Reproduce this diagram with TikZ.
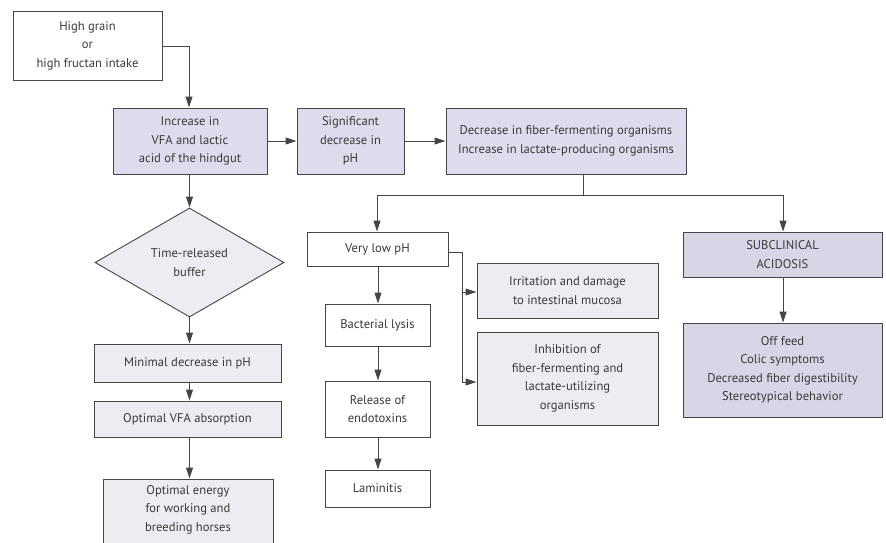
\documentclass[tikz,border=0pt]{standalone}
\usepackage{fontspec}
\setmainfont{PT Sans}
\usetikzlibrary{arrows.meta,shapes.geometric}
\definecolor{lav}{HTML}{DCDCEC}
\definecolor{lavd}{HTML}{D6D6E7}
\definecolor{lgray}{HTML}{ECECF2}
\definecolor{edge}{HTML}{454545}
\definecolor{txt}{HTML}{3A3A3A}
\tikzset{
  box/.style={draw=edge, line width=0.9pt, align=center, inner sep=0pt,
    font=\fontsize{12.6}{18.5}\selectfont, text=txt},
  conn/.style={draw=edge, line width=1pt, -{Triangle[length=11pt,width=7pt]}},
  plain/.style={draw=edge, line width=1pt},
}
\begin{document}
\begin{tikzpicture}[x=1pt,y=-1pt]
\useasboundingbox (0,0) rectangle (886,543);
\clip (0,0) rectangle (886,543);
\newcommand{\nbox}[7]{% name, x1,y1,x2,y2, fill, text
  \node[box, fill=#6, minimum width={(#4)-(#2)}, minimum height={(#5)-(#3)}] (#1) at ({((#2)+(#4))/2},{((#3)+(#5))/2}) {#7};
}
\nbox{hg}{13}{11}{162}{80}{white}{High grain\\or\\high fructan intake}
\nbox{vfa}{113}{108}{267}{174}{lav}{Increase in\\VFA and lactic\\acid of the hindgut}
\nbox{sig}{297}{108}{404}{174}{lav}{Significant\\decrease in\\pH}
\nbox{dec}{446}{108}{686}{174}{lav}{Decrease in fiber-fermenting organisms\\Increase in lactate-producing organisms}
\node[box, diamond, fill=lgray, minimum width=189pt, minimum height=109pt, aspect=1.73, inner sep=0pt] (tb) at (189.5,262.5) {Time-released\\buffer};
\nbox{min}{94}{344}{281}{382}{lgray}{Minimal decrease in pH}
\nbox{opt}{94}{401}{281}{437}{lgray}{Optimal VFA absorption}
\nbox{en}{103}{479}{273}{590}{lgray}{}
\node[box, draw=none, anchor=north] (ent) at (188,485) {Optimal energy\\for working and\\breeding horses};
\nbox{vlp}{307}{232}{448}{266}{white}{Very low pH}
\nbox{bl}{325}{304}{430}{346}{white}{Bacterial lysis}
\nbox{re}{325}{381}{430}{437}{white}{Release of\\endotoxins}
\nbox{lam}{325}{470}{430}{507}{white}{Laminitis}
\nbox{irr}{477}{263}{658}{318}{lgray}{Irritation and damage\\to intestinal mucosa}
\nbox{inh}{477}{332}{658}{425}{lgray}{Inhibition of\\fiber-fermenting and\\lactate-utilizing\\organisms}
\nbox{sub}{683}{232}{882}{277}{lavd}{SUBCLINICAL\\ACIDOSIS}
\nbox{off}{683}{323}{882}{417}{lavd}{Off feed\\Colic symptoms\\Decreased fiber digestibility\\Stereotypical behavior}
% connectors
\coordinate (hgc) at (189,47);
\draw[conn] (hg.east |- hgc) -| (vfa.north -| hgc);
\draw[conn] (vfa) -- (sig);
\draw[conn] (sig) -- (dec);
\coordinate (split) at (583,195);
\coordinate (lft) at (377,195);
\coordinate (rgt) at (783,195);
\draw[plain] (dec.south -| split) -- (split);
\draw[plain] (lft) -- (rgt);
\draw[conn] (lft) -- (vlp.north -| lft);
\draw[conn] (rgt) -- (sub.north -| rgt);
\draw[conn] (vfa.south -| tb.north) -- (tb.north);
\draw[conn] (tb.south) -- (min.north -| tb.south);
\draw[conn] (min.south -| tb.south) -- (opt.north -| tb.south);
\draw[conn] (opt.south -| tb.south) -- (en.north -| tb.south);
\coordinate (bx) at (378,0);
\draw[conn] (vlp.south -| bx) -- (bl.north -| bx);
\draw[conn] (bl.south -| bx) -- (re.north -| bx);
\draw[conn] (re.south -| bx) -- (lam.north -| bx);
\coordinate (br) at (462,252);
\coordinate (brb) at (462,382);
\coordinate (bri) at (462,292);
\draw[plain] (vlp.east |- br) -- (br) -- (brb);
\draw[conn] (bri) -- (irr.west |- bri);
\draw[conn] (brb) -- (inh.west |- brb);
\draw[conn] (sub.south -| rgt) -- (off.north -| rgt);
\end{tikzpicture}
\end{document}
